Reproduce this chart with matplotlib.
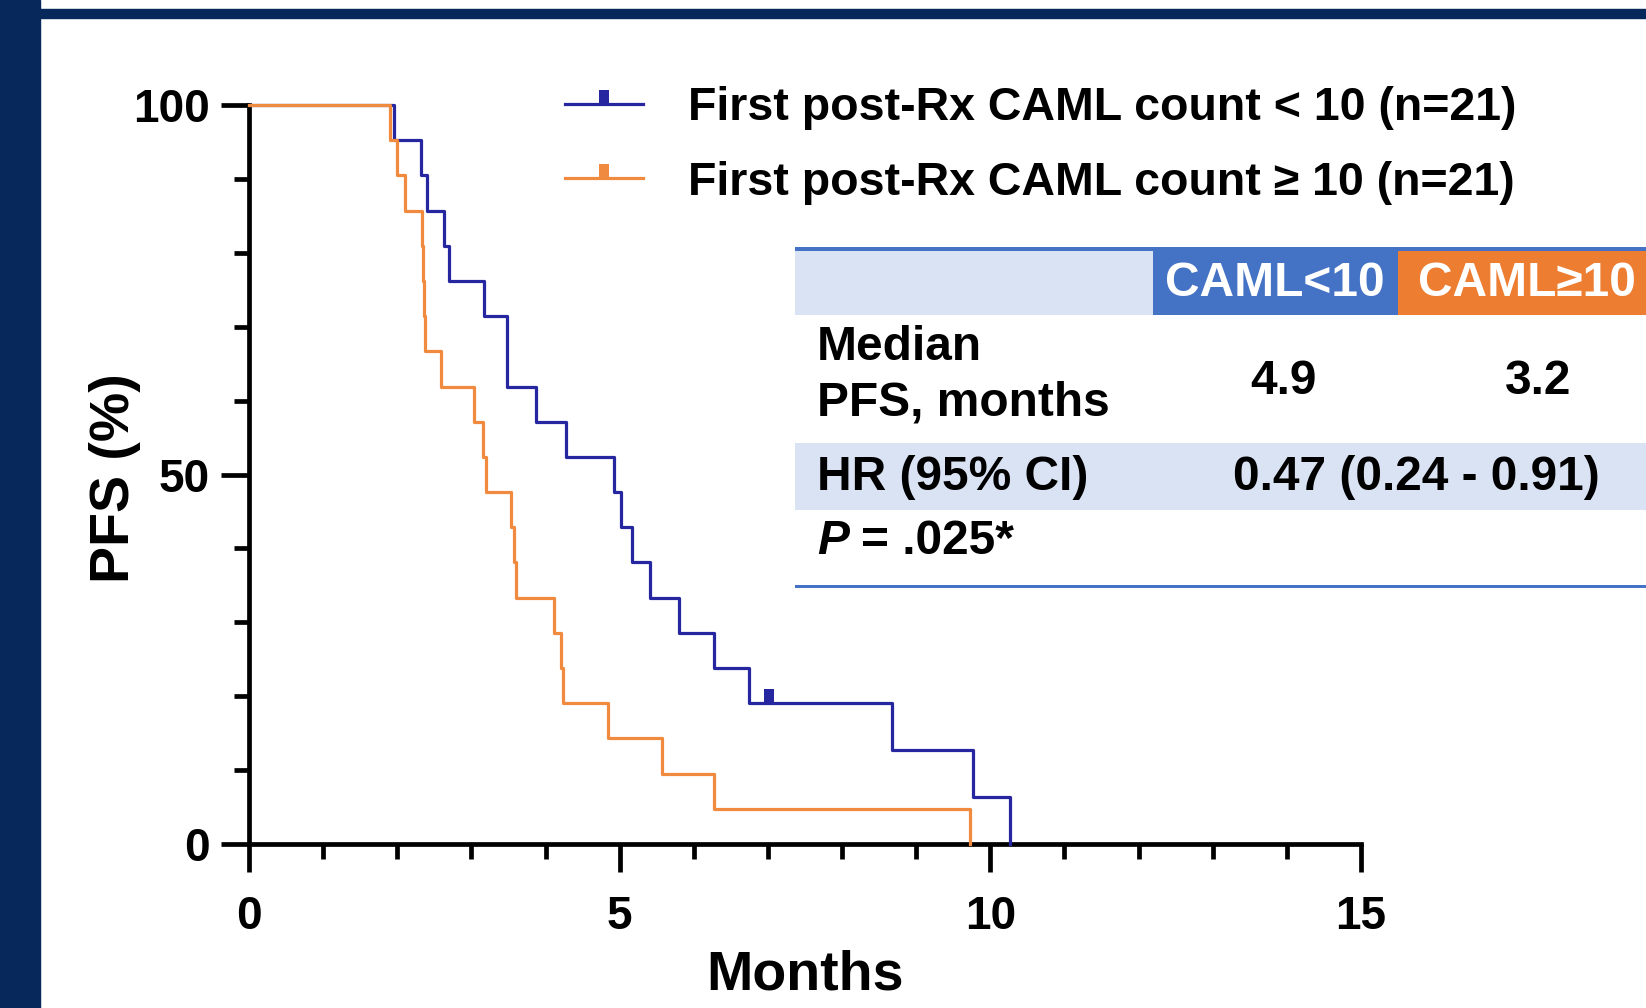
import matplotlib
matplotlib.use('Agg')
import matplotlib.pyplot as plt
from matplotlib.lines import Line2D
from matplotlib.patches import Rectangle
from matplotlib.path import Path
import numpy as np

plt.rcParams['font.family'] = ['Liberation Sans', 'DejaVu Sans']
plt.rcParams['font.weight'] = 'bold'

# event / censor times (months)
low_times = [1.95, 2.32, 2.40, 2.63, 2.70, 3.17, 3.48, 3.48, 3.87, 4.27, 4.93,
             5.02, 5.17, 5.41, 5.80, 6.27, 6.74, 7.01, 8.67, 9.77, 10.27]
low_event = [1, 1, 1, 1, 1, 1, 1, 1, 1, 1, 1, 1, 1, 1, 1, 1, 1, 0, 1, 1, 1]
high_times = [1.90, 1.99, 2.10, 2.33, 2.35, 2.36, 2.38, 2.59, 3.03, 3.16, 3.20,
              3.54, 3.57, 3.60, 4.12, 4.21, 4.23, 4.84, 5.57, 6.27, 9.73]
high_event = [1] * 21

labels = ['First post-Rx CAML count < 10 (n=21)',
          'First post-Rx CAML count \u2265 10 (n=21)']
col_heads = ['CAML<10', 'CAML\u226510']
median_pfs = ['4.9', '3.2']
hr_text = '0.47 (0.24 - 0.91)'
p_text = '= .025*'

blue = '#2626a0'
orange = '#ef8a3e'
navy = '#06285a'
tbl_blue = '#4472c4'
tbl_orange = '#ed7d31'
tbl_light = '#dae3f3'

W, H = 1646, 1008


def km(times, events):
    t = np.array(times)
    e = np.array(events)
    xs, ys, cx, cy = [0.0], [100.0], [], []
    s = 1.0
    at_risk = len(t)
    for u in np.unique(t):
        d = int(np.sum((t == u) & (e == 1)))
        c = int(np.sum((t == u) & (e == 0)))
        if d > 0:
            s = s * (1 - d / at_risk)
            xs.append(u)
            ys.append(s * 100)
        if c > 0:
            cx.append(u)
            cy.append(s * 100)
        at_risk -= d + c
    return xs, ys, cx, cy


def fx(px):
    return px / W


def fy(py):
    return 1 - py / H


# censor mark: small block sitting on top of the line
tick_path = Path([(-0.36, 0), (0.36, 0), (0.36, 1), (-0.36, 1), (-0.36, 0)],
                 [Path.MOVETO, Path.LINETO, Path.LINETO, Path.LINETO, Path.CLOSEPOLY])

fig = plt.figure(figsize=(W / 100, H / 100), dpi=100)
ax = fig.add_axes([fx(249), fy(844), fx(1361) - fx(249), fy(105) - fy(844)])

for times, events, c in [(low_times, low_event, blue), (high_times, high_event, orange)]:
    xs, ys, cx, cy = km(times, events)
    ax.step(xs, ys, where='post', color=c, lw=2.3, clip_on=False, zorder=3)
    if cx:
        ax.plot(cx, cy, ls='none', marker=tick_path, ms=20, color=c, mew=0, zorder=4)

ax.set_xlim(0, 15)
ax.set_ylim(0, 100)
ax.spines['top'].set_visible(False)
ax.spines['right'].set_visible(False)
for s in ['left', 'bottom']:
    ax.spines[s].set_linewidth(3.4)
ax.set_xticks([0, 5, 10, 15])
ax.set_xticks(np.arange(0, 16, 1), minor=True)
ax.set_yticks([0, 50, 100])
ax.set_yticks(np.arange(0, 101, 10), minor=True)
ax.tick_params(which='major', length=20, width=3.4, labelsize=33, pad=8)
ax.tick_params(which='minor', length=11, width=3.4)
ax.tick_params(axis='x', which='major', pad=17)

fig.text(fx(115), fy(478), 'PFS (%)', rotation=90, ha='center', va='center', fontsize=40)
fig.text(fx(805), fy(976), 'Months', ha='center', va='center', fontsize=40)

# legend
handles = [Line2D([], [], color=blue, lw=2.3, marker=tick_path, ms=20, mew=0),
           Line2D([], [], color=orange, lw=2.3, marker=tick_path, ms=20, mew=0)]
fig.legend(handles, labels, loc='upper left', bbox_to_anchor=(fx(565), fy(86)),
           frameon=False, borderpad=0, borderaxespad=0, handlelength=1.68,
           handletextpad=0.97, labelspacing=0.66, prop={'size': 33.5, 'weight': 'bold'})

# navy frame
fig.patches.append(Rectangle((0, 0), fx(40), 1, transform=fig.transFigure,
                             color=navy, zorder=0))
fig.patches.append(Rectangle((0, fy(18)), 1, fy(9) - fy(18), transform=fig.transFigure,
                             color=navy, zorder=0))

# table
def box(x0, y0, x1, y1, c):
    fig.patches.append(Rectangle((fx(x0), fy(y1)), fx(x1) - fx(x0), fy(y0) - fy(y1),
                                 transform=fig.transFigure, color=c, lw=0, zorder=1))

box(795, 249, 1153, 315, tbl_light)
box(1153, 249, 1398, 315, tbl_blue)
box(1398, 249, 1646, 315, tbl_orange)
box(795, 443, 1646, 510, tbl_light)
box(795, 247, 1646, 251, tbl_blue)
box(795, 585, 1646, 588, tbl_blue)

fs = 34.5
fig.text(fx(1275), fy(283), col_heads[0], color='white', ha='center', va='center', fontsize=fs)
fig.text(fx(1527), fy(283), col_heads[1], color='white', ha='center', va='center', fontsize=fs)
fig.text(fx(817), fy(348), 'Median', ha='left', va='center', fontsize=fs)
fig.text(fx(817), fy(403), 'PFS, months', ha='left', va='center', fontsize=fs)
fig.text(fx(1283), fy(381), median_pfs[0], ha='center', va='center', fontsize=fs)
fig.text(fx(1538), fy(381), median_pfs[1], ha='center', va='center', fontsize=fs)
fig.text(fx(817), fy(477), 'HR (95% CI)', ha='left', va='center', fontsize=fs)
fig.text(fx(1416), fy(477), hr_text, ha='center', va='center', fontsize=fs)
ptxt = fig.text(fx(817), fy(542), 'P', ha='left', va='center', fontsize=fs, style='italic')
ax.annotate(p_text, xy=(1, 0.5), xycoords=ptxt, xytext=(9, 0), textcoords='offset points',
            ha='left', va='center', fontsize=fs, annotation_clip=False)

fig.savefig('out.png', dpi=100, facecolor='white')
